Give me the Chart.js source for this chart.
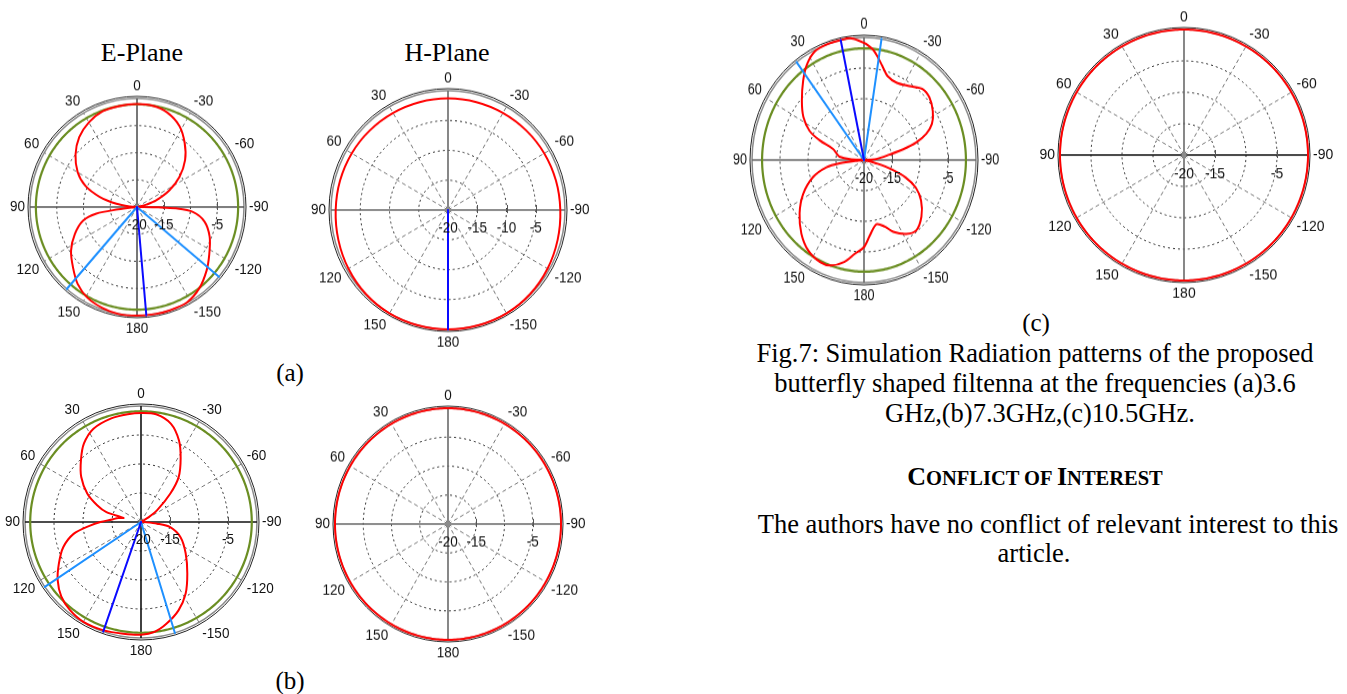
<!DOCTYPE html>
<html>
<head>
<meta charset="utf-8">
<script src="https://cdn.jsdelivr.net/npm/chart.js@4.4.1/dist/chart.umd.min.js"></script>
<style>
html,body{margin:0;padding:0;background:#fff;width:1347px;height:694px;overflow:hidden;position:relative;}
.t{position:absolute;transform:translate(-50%,-50%);white-space:nowrap;font-family:"Liberation Serif","Times New Roman",serif;color:#000;line-height:1;}
.w{position:absolute;}
.w canvas{display:block;}
</style>
</head>
<body>
<div class="t" style="left:142px;top:53px;font-size:26px">E-Plane</div>
<div class="t" style="left:447px;top:53px;font-size:26px">H-Plane</div>
<div class="t" style="left:290px;top:372px;font-size:25px">(a)</div>
<div class="t" style="left:290px;top:680px;font-size:25px">(b)</div>
<div class="t" style="left:1036px;top:322px;font-size:25px">(c)</div>
<div class="t" style="left:1035px;top:353px;font-size:26.5px">Fig.7: Simulation Radiation patterns of the proposed</div>
<div class="t" style="left:1035px;top:383px;font-size:26.5px">butterfly shaped filtenna at the frequencies (a)3.6</div>
<div class="t" style="left:1040px;top:413px;font-size:26.5px">GHz,(b)7.3GHz,(c)10.5GHz.</div>
<div class="t" style="left:1035px;top:477px;font-size:26px;font-weight:bold">C<span style="font-size:20.5px">ONFLICT OF </span>I<span style="font-size:20.5px">NTEREST</span></div>
<div class="t" style="left:1048px;top:524px;font-size:26.5px">The authors have no conflict of relevant interest to this</div>
<div class="t" style="left:1034px;top:553px;font-size:26.5px">article.</div>

<script>
// ---------- angle / tick labels ----------
const angleTicks = [0, 30, 60, 90, 120, 150, 180, -150, -120, -90, -60, -30];

// ---------- (a) 3.6 GHz : E-plane ----------
const aE_angles = [0, 10, 20, 30, 40, 50, 60, 68, 75, 81, 86, 90, 95, 97, 99, 104, 113, 123, 133, 142, 151, 161, 170, 180, -170, -162, -152, -142, -132, -123, -112, -102, -95, -92, -91, -90, -85, -80, -76, -71, -63, -55, -46, -37, -28, -18, -9];
const aE_gain = [-1.05, -1.1, -1.25, -2.0, -3.2, -5.0, -7.2, -9.6, -12.8, -16.1, -18.8, -20, -19.0, -16.5, -12.3, -9.6, -7.4, -5.3, -3.65, -2.0, -0.9, -0.3, 0, 0, 0, 0, -0.1, -1.05, -2.5, -3.9, -5.35, -7.1, -9.5, -12.7, -16.0, -20, -20, -19.5, -18.2, -16.2, -13.2, -10.3, -7.5, -5.2, -3.1, -1.7, -1.13];
const aE_refLevel = -1.1;
const aE_mainDir = [-175];
const aE_beamEdges = [139, -130];
const aE_rTicks = [-20, -15, -5];

// ---------- (a) 3.6 GHz : H-plane ----------
const aH_angles = [0, 15, 30, 45, 60, 75, 90, 105, 120, 135, 150, 165, 180, -165, -150, -135, -120, -105, -90, -75, -60, -45, -30, -15];
const aH_gain = [-1.3, -1.28, -1.22, -1.12, -1.0, -0.9, -0.8, -0.6, -0.35, -0.12, 0, 0, 0, 0, 0, -0.12, -0.35, -0.6, -0.8, -0.9, -1.0, -1.12, -1.22, -1.28];
const aH_mainDir = [180];
const aH_rTicks = [-20, -15, -10, -5];

// ---------- (b) 7.3 GHz : E-plane ----------
const bE_angles = [0, 7, 16, 27, 36, 44, 53, 62, 69, 74, 77, 80, 85, 90, 94, 100, 108, 117, 125, 133, 141, 150, 161, 171, 180, -173, -166, -157, -148, -138, -125, -111, -100, -96, -92, -90, -75, -62, -58, -54, -46, -40, -32, -25, -17, -8];
const bE_gain = [-1.2, -1.28, -1.41, -1.95, -3.27, -5.1, -7.1, -9.5, -11.9, -13.8, -16.9, -16.0, -15.0, -13.0, -11.2, -8.2, -5.9, -4.1, -2.47, -1.2, -0.5, -0.13, -0.24, -0.5, -0.57, -0.9, -1.9, -3.45, -5.47, -8.07, -10.6, -12.7, -14.9, -17.2, -19.5, -20, -20, -20, -18.5, -16.6, -13.0, -9.9, -7.1, -4.5, -2.3, -1.24];
const bE_refLevel = -0.9;
const bE_mainDir = [161];
const bE_beamEdges = [124, -163];
const bE_rTicks = [-20, -15, -5];

// ---------- (b) 7.3 GHz : H-plane ----------
const bH_level = 0;
const bH_rTicks = [-20, -15, -5];

// ---------- (c) 10.5 GHz : E-plane ----------
const cL_angles = [0, 2, 7, 12, 19, 26, 33, 40, 49, 57, 64, 68, 72, 78, 83, 87, 90, 94, 97, 100, 107, 117, 127, 137, 146, 155, 161, 168, 174, 180, -175, -168, -161, -156, -148, -141, -132, -123, -116, -111, -107, -104, -100, -95, -90, -88, -86, -79, -76, -73, -69, -64, -57, -49, -42, -34, -25, -17, -12, -8, -5, -1];
const cL_gain = [-0.9, -0.6, 0, 0, 0, -0.2, -1.35, -3.1, -5.3, -7.1, -9.2, -11.5, -14.2, -15.0, -15.6, -17.5, -20, -19, -15.6, -13.2, -10.5, -7.8, -5.6, -3.6, -2.2, -1.6, -1.8, -3.0, -4.65, -5.8, -7.7, -9.3, -8.5, -7.2, -5.8, -5.2, -6.2, -7.85, -9.7, -12.0, -15.0, -17.5, -19.5, -20, -20, -19, -17.8, -15.4, -12.8, -10.3, -8.1, -6.5, -5.35, -4.5, -4.4, -5.45, -6.1, -5.66, -4.3, -2.9, -1.9, -1.05];
const cL_refLevel = -1.8;
const cL_mainDir = [12];
const cL_beamEdges = [37, -9];
const cL_rTicks = [-20, -15, -5];

// ---------- (c) 10.5 GHz : H-plane ----------
const cR_level = 0;
const cR_rTicks = [-20, -15, -5];

// ---------- helpers ----------
const RMIN = -20, RMAX = 0;
const labels360 = [];
for (let i = 0; i < 360; i++) {
  const a = i <= 180 ? -i : 360 - i;
  labels360.push(String(a === -180 ? 180 : a));
}
function idxOf(a) { return ((Math.round(-a) % 360) + 360) % 360; }
function sparse(angles, vals) {
  const d = new Array(360).fill(null);
  angles.forEach((a, k) => { d[idxOf(a)] = Math.max(RMIN, Math.min(RMAX, vals[k])); });
  return d;
}
function ring(v) { return new Array(360).fill(v); }
function spoke(a) { const d = new Array(360).fill(RMIN); d[idxOf(a)] = RMAX; return d; }

function drawNarrow(ctx, txt, x, y) {
  ctx.save();
  ctx.translate(x, y);
  ctx.scale(0.9, 1);
  ctx.fillText(txt, 0, 0);
  ctx.restore();
}

function decoPlugin(cfg) {
  return {
    id: 'deco',
    beforeDatasetsDraw(chart) {
      const s = chart.scales.r, ctx = chart.ctx;
      ctx.save();
      ctx.strokeStyle = '#222'; ctx.lineWidth = 1;
      ctx.beginPath(); ctx.arc(s.xCenter, s.yCenter, s.drawingArea + 2, 0, Math.PI * 2); ctx.stroke();
      ctx.strokeStyle = '#555'; ctx.lineWidth = 1;
      cfg.rTicks.filter(v => v > RMIN).forEach(v => {
        const x = Math.round(s.xCenter + s.getDistanceFromCenterForValue(v)) + 0.5;
        ctx.beginPath(); ctx.moveTo(x, s.yCenter - 5); ctx.lineTo(x, s.yCenter + 3); ctx.stroke();
      });
      ctx.fillStyle = '#8a8a8a';
      ctx.beginPath(); ctx.arc(s.xCenter, s.yCenter, 2.5, 0, Math.PI * 2); ctx.fill();
      ctx.restore();
    },
    afterDraw(chart) {
      const s = chart.scales.r, ctx = chart.ctx, fs = cfg.fs;
      ctx.save();
      ctx.font = fs + 'px "Liberation Sans", Arial, sans-serif';
      ctx.fillStyle = '#111';
      ctx.textBaseline = 'middle';
      angleTicks.forEach(a => {
        const rad = a * Math.PI / 180;
        const sx = -Math.sin(rad), up = Math.cos(rad);
        const p = s.getPointPosition(idxOf(a), s.drawingArea + 5 + 2 * Math.abs(up));
        ctx.textAlign = Math.abs(sx) < 0.01 ? 'center' : (sx < 0 ? 'right' : 'left');
        let y = p.y;
        if (up > 0.01) y -= 0.36 * fs; else if (up < -0.01) y += 0.36 * fs;
        drawNarrow(ctx, String(a), p.x, y);
      });
      ctx.textAlign = 'center';
      cfg.rTicks.forEach(v => {
        drawNarrow(ctx, String(v), s.xCenter + s.getDistanceFromCenterForValue(v), s.yCenter + 1.2 * fs);
      });
      ctx.restore();
    }
  };
}

function makePolar(cfg) {
  const pad = 40;
  const size = 2 * (cfg.R + pad);
  const wrap = document.createElement('div');
  wrap.className = 'w';
  wrap.style.left = (cfg.cx - cfg.R - pad) + 'px';
  wrap.style.top = (cfg.cy - cfg.R - pad) + 'px';
  wrap.style.width = size + 'px';
  wrap.style.height = size + 'px';
  wrap.style.transformOrigin = (cfg.R + pad) + 'px ' + (cfg.R + pad) + 'px';
  wrap.style.transform = 'scaleY(' + cfg.sy + ')';
  const cv = document.createElement('canvas');
  cv.width = size; cv.height = size;
  wrap.appendChild(cv);
  document.body.appendChild(wrap);

  const base = { fill: false, backgroundColor: 'transparent', pointRadius: 0, pointHoverRadius: 0, pointHitRadius: 0, clip: false, borderJoinStyle: 'round' };
  const datasets = [];
  (cfg.main || []).forEach(a => datasets.push(Object.assign({}, base, { data: spoke(a), borderColor: '#0a0aff', borderWidth: 2, tension: 0 })));
  (cfg.beams || []).forEach(a => datasets.push(Object.assign({}, base, { data: spoke(a), borderColor: '#1e90ff', borderWidth: 2, tension: 0 })));
  datasets.push(Object.assign({}, base, { data: cfg.red, borderColor: '#ff0000', borderWidth: 2, spanGaps: true, tension: cfg.redTension }));
  if (cfg.green !== undefined) datasets.push(Object.assign({}, base, { data: ring(cfg.green), borderColor: '#6b8e23', borderWidth: 2.2, tension: 0 }));

  const axisCol = cfg.axisCol || '#6a6a6a';
  new Chart(cv, {
    type: 'radar',
    data: { labels: labels360, datasets },
    options: {
      responsive: false,
      animation: false,
      events: [],
      layout: { padding: pad },
      plugins: { legend: { display: false }, tooltip: { enabled: false } },
      scales: {
        r: {
          min: RMIN, max: RMAX, startAngle: 0,
          ticks: { display: false, stepSize: 5 },
          pointLabels: { display: false },
          grid: {
            circular: true,
            color: c => (c.tick && c.tick.value === RMAX) ? '#8a8a8a' : '#2a2a2a',
            lineWidth: c => (c.tick && c.tick.value === RMAX) ? 1.5 : 1
          },
          border: { dash: c => (c.tick && c.tick.value === RMAX) ? [] : [2, 3] },
          angleLines: {
            display: true,
            color: c => {
              const a = Number(labels360[c.index]);
              if (a % 90 === 0) return (a === 90 || a === -90) ? (cfg.axisColH || axisCol) : axisCol;
              return '#777';
            },
            lineWidth: c => {
              const a = Number(labels360[c.index]);
              if (a % 90 === 0) return 1.6;
              if (a % 30 === 0) return 1;
              return 0;
            },
            borderDash: c => {
              const a = Number(labels360[c.index]);
              return a % 90 === 0 ? [] : [4, 3];
            }
          }
        }
      }
    },
    plugins: [decoPlugin(cfg)]
  });
}

makePolar({ cx: 137, cy: 207, R: 107, sy: 1.015, fs: 15, red: sparse(aE_angles, aE_gain), redTension: 0.3, green: aE_refLevel, main: aE_mainDir, beams: aE_beamEdges, rTicks: aE_rTicks, axisCol: '#555' });
makePolar({ cx: 448.3, cy: 210.3, R: 117, sy: 1.02, fs: 15, red: sparse(aH_angles, aH_gain), redTension: 0.34, main: aH_mainDir, rTicks: aH_rTicks });
makePolar({ cx: 140.7, cy: 521.7, R: 116, sy: 1.0, fs: 15, red: sparse(bE_angles, bE_gain), redTension: 0.3, green: bE_refLevel, main: bE_mainDir, beams: bE_beamEdges, rTicks: bE_rTicks, axisCol: '#111' });
makePolar({ cx: 448.3, cy: 524, R: 113, sy: 1.025, fs: 15, red: ring(bH_level), redTension: 0, rTicks: bH_rTicks });
makePolar({ cx: 864.3, cy: 160, R: 112, sy: 1.095, fs: 14, red: sparse(cL_angles, cL_gain), redTension: 0.3, green: cL_refLevel, main: cL_mainDir, beams: cL_beamEdges, rTicks: cL_rTicks });
makePolar({ cx: 1184.4, cy: 155, R: 124, sy: 1.012, fs: 15.5, red: ring(cR_level), redTension: 0, rTicks: cR_rTicks, axisColH: '#111' });
</script>
</body>
</html>
